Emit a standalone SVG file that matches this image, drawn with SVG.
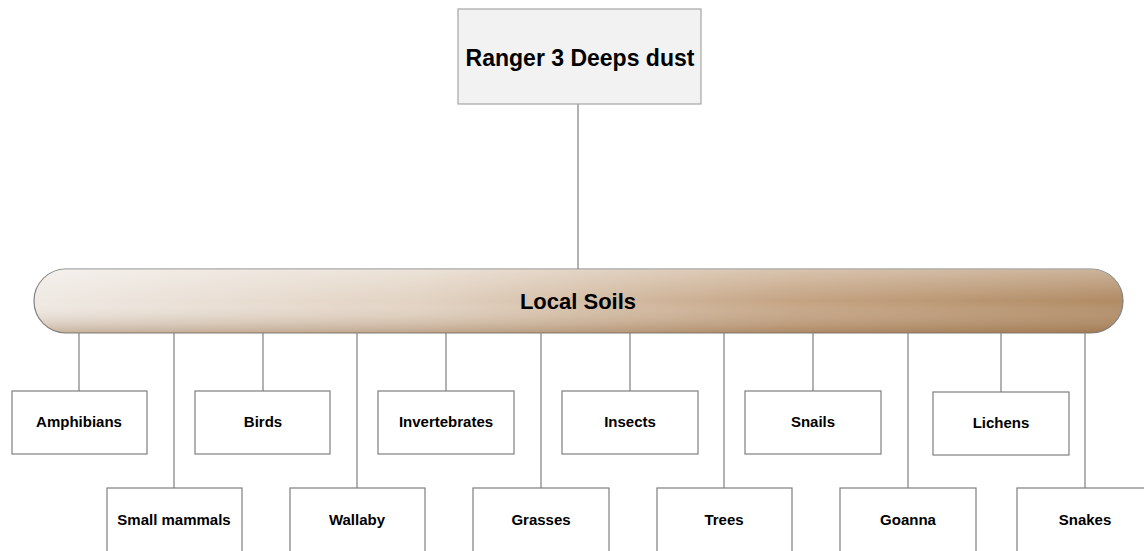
<svg xmlns="http://www.w3.org/2000/svg" width="1144" height="551" viewBox="0 0 1144 551">
<defs>
<linearGradient id="hg" x1="0" y1="0" x2="1" y2="0">
<stop offset="0" stop-color="#efe9e3"/>
<stop offset="0.35" stop-color="#e2d3c3"/>
<stop offset="0.7" stop-color="#c4a382"/>
<stop offset="1" stop-color="#b08a63"/>
</linearGradient>
<linearGradient id="vg" x1="0" y1="0" x2="0" y2="1">
<stop offset="0" stop-color="#ffffff" stop-opacity="0.35"/>
<stop offset="0.5" stop-color="#ffffff" stop-opacity="0"/>
<stop offset="1" stop-color="#8a6038" stop-opacity="0.4"/>
</linearGradient>
</defs>
<style>
.box{fill:#ffffff;stroke:#7f7f7f;stroke-width:1.2}
.top{fill:#f2f2f2;stroke:#a6a6a6;stroke-width:1.2}
.lbl{font-family:"Liberation Sans",Arial,sans-serif;font-weight:bold;font-size:15px;fill:#000;text-anchor:middle}
.big{font-family:"Liberation Sans",Arial,sans-serif;font-weight:bold;font-size:23px;fill:#000;text-anchor:middle}
.ln{stroke:#7f7f7f;stroke-width:1.2;fill:none}
</style>
<g id="connectors">
<line class="ln" x1="578" y1="104" x2="578" y2="270"/>
<line class="ln" x1="79" y1="333" x2="79" y2="391"/>
<line class="ln" x1="174" y1="333" x2="174" y2="488"/>
<line class="ln" x1="263" y1="333" x2="263" y2="391"/>
<line class="ln" x1="357" y1="333" x2="357" y2="488"/>
<line class="ln" x1="446" y1="333" x2="446" y2="391"/>
<line class="ln" x1="541" y1="333" x2="541" y2="488"/>
<line class="ln" x1="630" y1="333" x2="630" y2="391"/>
<line class="ln" x1="724" y1="333" x2="724" y2="488"/>
<line class="ln" x1="813" y1="333" x2="813" y2="391"/>
<line class="ln" x1="908" y1="333" x2="908" y2="488"/>
<line class="ln" x1="1001" y1="333" x2="1001" y2="392"/>
<line class="ln" x1="1085" y1="333" x2="1085" y2="488"/>
</g>
<g id="ranger">
<rect class="top" x="458" y="9" width="243" height="95"/>
<text class="big" x="580" y="66">Ranger 3 Deeps dust</text>
</g>
<g id="local-soils">
<rect x="34" y="269" width="1089" height="64" rx="32" ry="32" fill="url(#hg)" stroke="#7f7f7f" stroke-width="1.2"/>
<rect x="34" y="269" width="1089" height="64" rx="32" ry="32" fill="url(#vg)"/>
<text class="big" x="578" y="309" style="font-size:22px">Local Soils</text>
</g>
<g id="amphibians"><rect class="box" x="12" y="391" width="135" height="63"/><text class="lbl" x="79" y="427">Amphibians</text></g>
<g id="birds"><rect class="box" x="195" y="391" width="135" height="63"/><text class="lbl" x="263" y="427">Birds</text></g>
<g id="invertebrates"><rect class="box" x="378" y="391" width="136" height="63"/><text class="lbl" x="446" y="427">Invertebrates</text></g>
<g id="insects"><rect class="box" x="562" y="391" width="136" height="63"/><text class="lbl" x="630" y="427">Insects</text></g>
<g id="snails"><rect class="box" x="745" y="391" width="136" height="63"/><text class="lbl" x="813" y="427">Snails</text></g>
<g id="lichens"><rect class="box" x="933" y="392" width="136" height="63"/><text class="lbl" x="1001" y="428">Lichens</text></g>
<g id="small-mammals"><rect class="box" x="107" y="488" width="135" height="70"/><text class="lbl" x="174" y="525">Small mammals</text></g>
<g id="wallaby"><rect class="box" x="290" y="488" width="135" height="70"/><text class="lbl" x="357" y="525">Wallaby</text></g>
<g id="grasses"><rect class="box" x="473" y="488" width="136" height="70"/><text class="lbl" x="541" y="525">Grasses</text></g>
<g id="trees"><rect class="box" x="657" y="488" width="135" height="70"/><text class="lbl" x="724" y="525">Trees</text></g>
<g id="goanna"><rect class="box" x="840" y="488" width="136" height="70"/><text class="lbl" x="908" y="525">Goanna</text></g>
<g id="snakes"><rect class="box" x="1017" y="488" width="136" height="70"/><text class="lbl" x="1085" y="525">Snakes</text></g>
</svg>
